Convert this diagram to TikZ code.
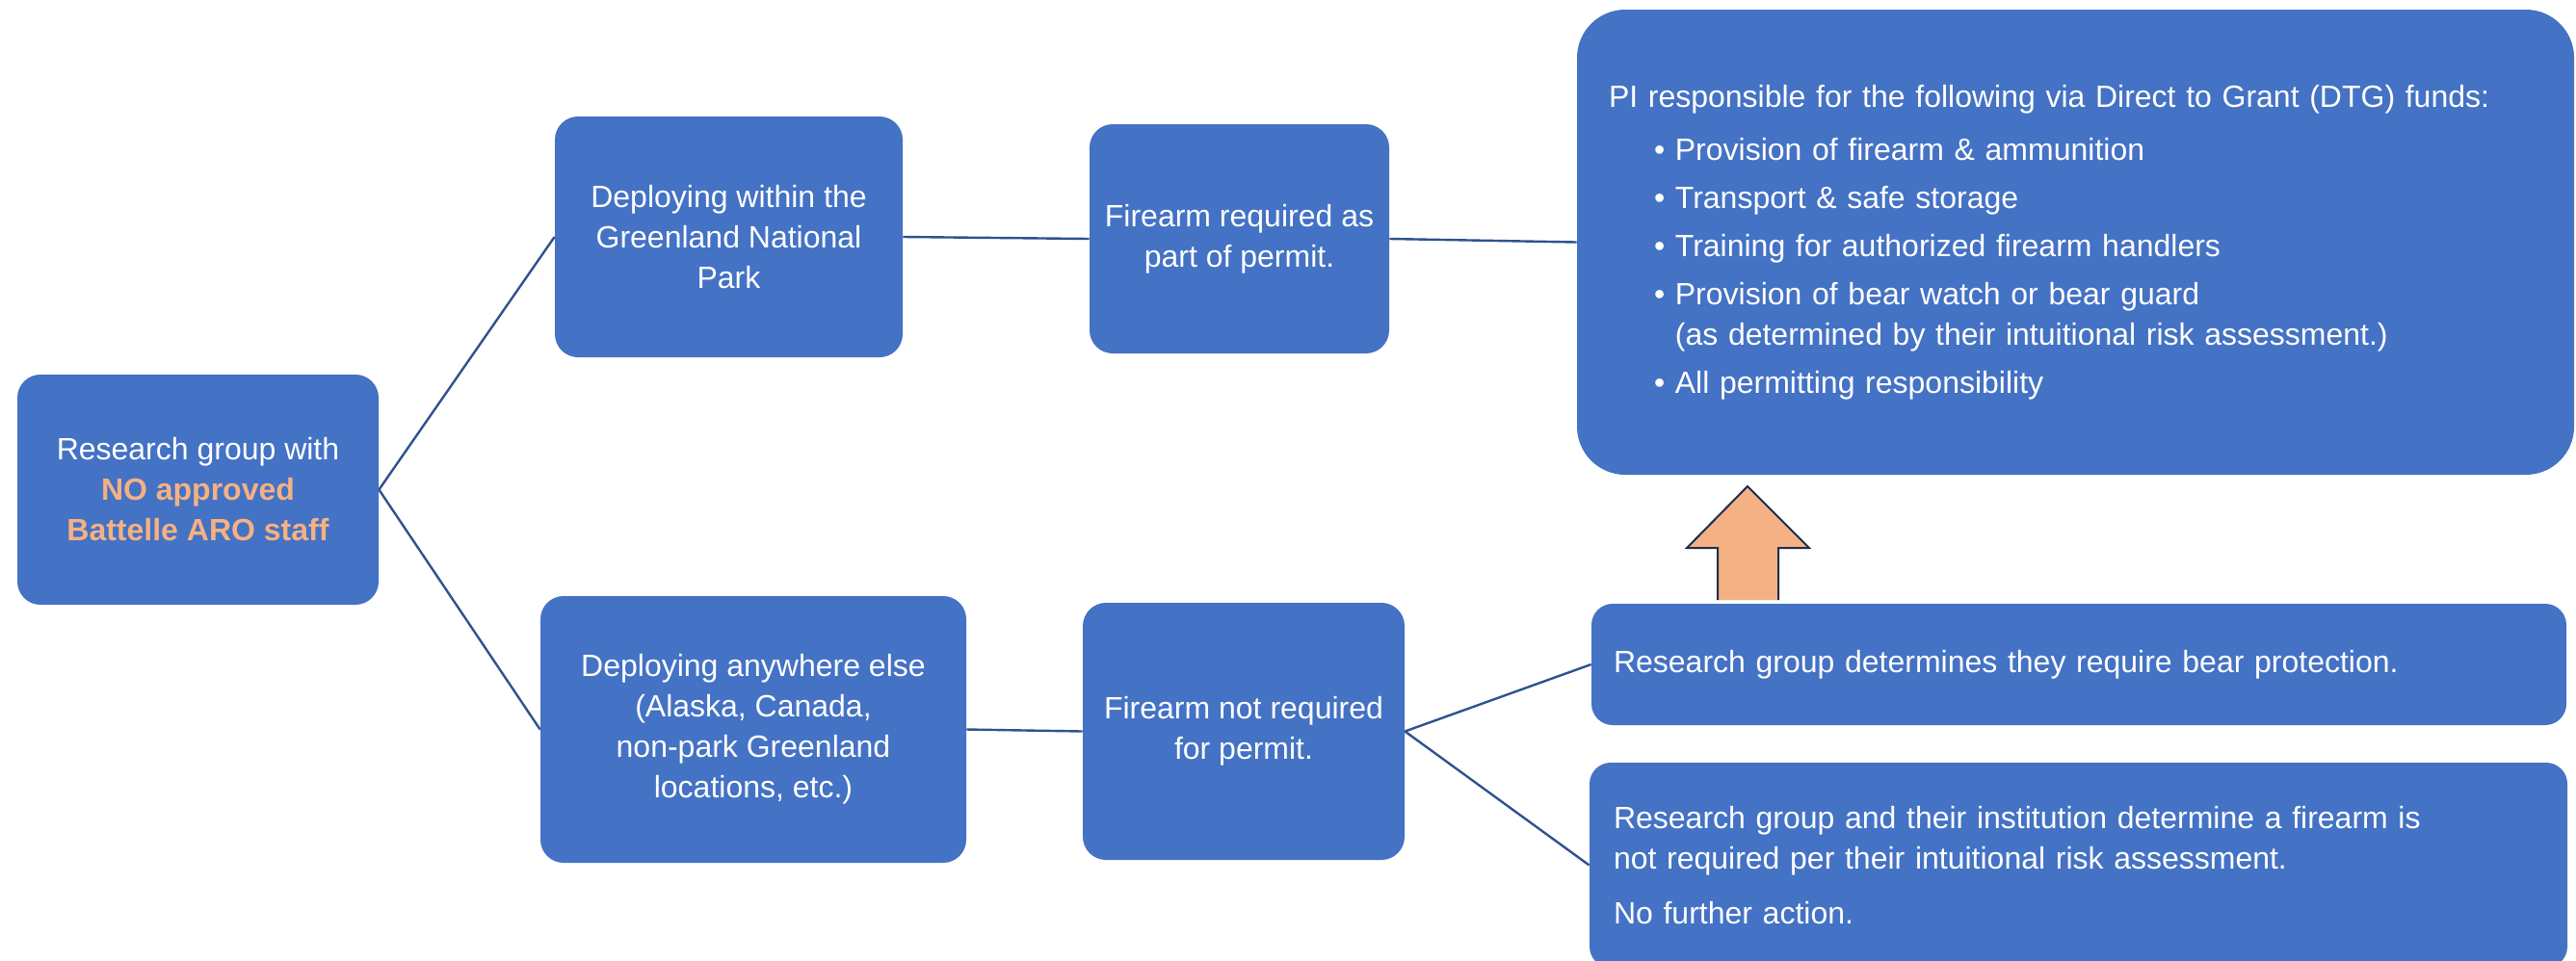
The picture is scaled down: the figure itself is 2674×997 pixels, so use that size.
\documentclass[tikz,border=0pt]{standalone}
\usepackage{fontspec}
\setmainfont{Liberation Sans}
\definecolor{boxblue}{HTML}{4472C4}
\definecolor{lineblue}{HTML}{2F528F}
\definecolor{peach}{HTML}{F4B183}
\definecolor{navy}{HTML}{1F2D4D}
\tikzset{
  box/.style={fill=boxblue, text=white, rounded corners=12pt, inner sep=0pt,
    align=center, font=\fontsize{16}{21}\selectfont},
  widebox/.style={box, align=left, rounded corners=11pt},
  link/.style={draw=lineblue, line width=1.2pt},
}
\newcommand{\ind}{\hspace*{23.5pt}}
\begin{document}
\begin{tikzpicture}[x=0.5pt,y=-0.5pt]
\useasboundingbox (0,0) rectangle (2674,997);
% start
\node[box, minimum width=187.5pt, minimum height=119.5pt] (group) at (205.5,508.5)
  {Research group with\\ \textcolor{peach}{\textbf{NO approved}}\\ \textcolor{peach}{\textbf{Battelle ARO staff}}};
% where
\node[box, minimum width=180.5pt, minimum height=125pt] (park) at (756.5,246)
  {Deploying within the\\ Greenland National\\ Park};
\node[box, minimum width=221pt, minimum height=138.5pt] (else) at (782,757.5)
  {Deploying anywhere else\\ (Alaska, Canada,\\ non-park Greenland\\ locations, etc.)};
% permit
\node[box, minimum width=155.5pt, minimum height=119pt] (req) at (1286.5,248)
  {Firearm required as\\ part of permit.};
\node[box, minimum width=167pt, minimum height=133.5pt] (noreq) at (1291,759.5)
  {Firearm not required\\ for permit.};
% outcome
\node[widebox, rounded corners=25pt, text width=484.5pt, inner xsep=16.5pt, minimum height=241.5pt] (pi) at (2154.5,251.5)
  {PI responsible for the following via Direct to Grant (DTG) funds:\\[6.5pt]
   \ind• Provision of firearm \& ammunition\\[4pt]
   \ind• Transport \& safe storage\\[4pt]
   \ind• Training for authorized firearm handlers\\[4pt]
   \ind• Provision of bear watch or bear guard\\
   \ind\phantom{• }(as determined by their intuitional risk assessment.)\\[4pt]
   \ind• All permitting responsibility};
\node[widebox, text width=483pt, inner xsep=11.5pt, minimum height=63pt] (bear) at (2158,690)
  {Research group determines they require bear protection.};
\node[widebox, text width=482.5pt, inner xsep=12.5pt, minimum height=106.5pt] (nobear) at (2157.5,898.5)
  {Research group and their institution determine a firearm is\\ not required per their intuitional risk assessment.\\[7.5pt] No further action.};
% connectors
\draw[link] (group.east) -- (park.west);
\draw[link] (group.east) -- (else.west);
\draw[link] (park.east) -- (req.west);
\draw[link] (req.east) -- (pi.west);
\draw[link] (else.east) -- (noreq.west);
\draw[link] (noreq.east) -- (bear.west);
\draw[link] (noreq.east) -- (nobear.west);
% up arrow
\filldraw[fill=peach, draw=navy, line width=1pt] (1783,623) -- (1783,569) -- (1751,569) -- (1814,505)
  -- (1878,569) -- (1846,569) -- (1846,623);
\end{tikzpicture}
\end{document}
